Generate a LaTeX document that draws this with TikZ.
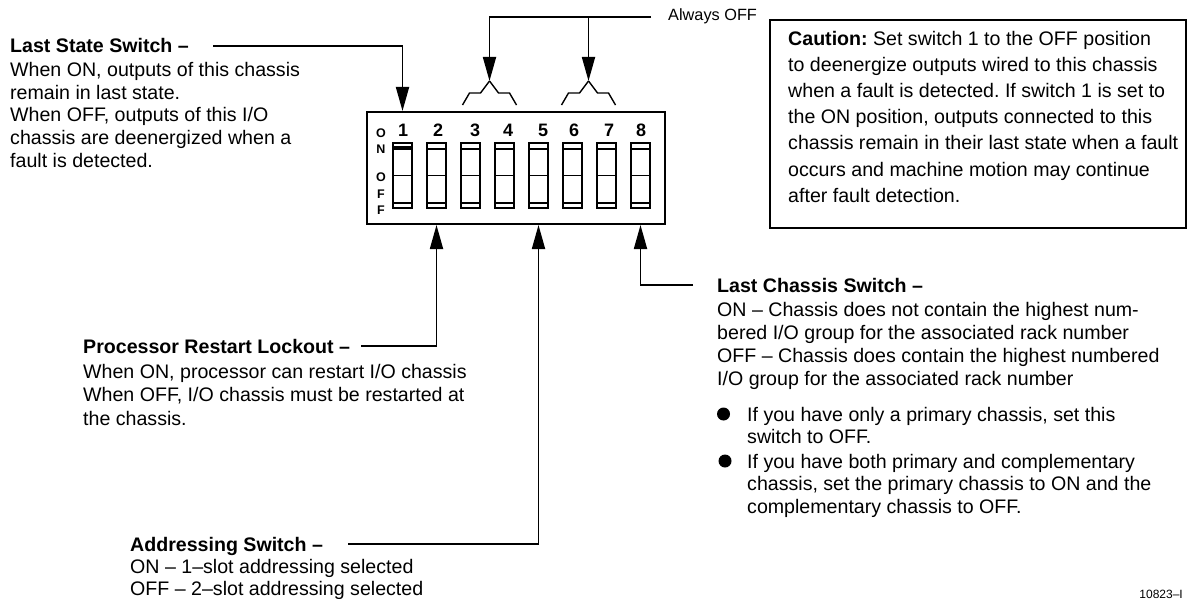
\documentclass[tikz,border=0pt]{standalone}
\usepackage{fontspec}
\setmainfont{Liberation Sans}
\usetikzlibrary{arrows.meta}
\frenchspacing

\begin{document}
\begin{tikzpicture}[
  x=1pt, y=-1pt,
  txt/.style={inner sep=0pt, align=left, font=\fontsize{19.6}{22.7}\selectfont},
  head/.style={inner sep=0pt, anchor=base west, text height=13.8pt, text depth=0pt, font=\fontsize{19.6}{22.7}\selectfont\bfseries},
  body/.style={txt, anchor=north west},
  leader/.style={line width=1.8pt},
  pointer/.style={leader, -{Triangle[length=24pt, width=13pt]}},
  switchbox/.style={draw, line width=1.4pt, minimum width=19pt, minimum height=65pt, inner sep=0pt,
    path picture={
      \draw[line width=1.4pt] ([yshift=-6pt]path picture bounding box.north west) -- ([yshift=-6pt]path picture bounding box.north east);
      \draw[line width=1.4pt] ([yshift=5pt]path picture bounding box.south west) -- ([yshift=5pt]path picture bounding box.south east);
      \draw[line width=1.4pt] (path picture bounding box.west) -- (path picture bounding box.east);
    }},
  swnum/.style={inner sep=0pt, font=\fontsize{18}{18}\selectfont\bfseries},
  onoff/.style={inner sep=0pt, font=\fontsize{12.5}{12.5}\selectfont\bfseries},
  dot/.style={circle, fill, inner sep=0pt, minimum size=13pt}
]
\useasboundingbox (0,0) rectangle (1193,599);

% switch block
\node[draw, line width=2pt, minimum width=298pt, minimum height=112pt, inner sep=0pt] (dip) at (516,168) {};

\node[switchbox] (sw1) at (402.5,175.5) {};
\node[switchbox] (sw2) at (436.5,175.5) {};
\node[switchbox] (sw3) at (470.5,175.5) {};
\node[switchbox] (sw4) at (504.5,175.5) {};
\node[switchbox] (sw5) at (538.5,175.5) {};
\node[switchbox] (sw6) at (572.5,175.5) {};
\node[switchbox] (sw7) at (606.5,175.5) {};
\node[switchbox] (sw8) at (640.5,175.5) {};
\draw[line width=2.6pt] ([yshift=-5pt]sw1.north west) -- ([yshift=-5pt]sw1.north east);

\node[swnum] (num1) at (403,130) {1};
\node[swnum] (num2) at (438,130) {2};
\node[swnum] (num3) at (475,130) {3};
\node[swnum] (num4) at (508,130) {4};
\node[swnum] (num5) at (543,130) {5};
\node[swnum] (num6) at (574,130) {6};
\node[swnum] (num7) at (609,130) {7};
\node[swnum] (num8) at (641,130) {8};

\node[onoff] (on1) at (381,133) {O};
\node[onoff] (on2) at (381,149) {N};
\node[onoff] (off1) at (381,177) {O};
\node[onoff] (off2) at (381,194) {F};
\node[onoff] (off3) at (381,210) {F};

% always off
\node[inner sep=0pt, anchor=base west, font=\fontsize{16.3}{16.3}\selectfont] (always) at (668,21) {Always OFF};
\coordinate (fork34) at (489.5,81);
\coordinate (fork67) at (588.5,81);
\draw[pointer, shorten <=17pt] (always.west) -| (fork34);
\draw[pointer] (always.west -| fork67) -- (fork67);
\draw[line width=1.4pt] (fork34) -- ++(-9,12) -- ++(-11,0) -- ++(-7,12);
\draw[line width=1.4pt] (fork34) -- ++(9,12) -- ++(11,0) -- ++(7,12);
\draw[line width=1.4pt] (fork67) -- ++(-9,12) -- ++(-11,0) -- ++(-7,12);
\draw[line width=1.4pt] (fork67) -- ++(9,12) -- ++(11,0) -- ++(7,12);

% last state switch
\node[head] (lsshead) at (10,53) {Last State Switch –};
\node[body] (lssbody) at (10,62) {When ON, outputs of this chassis\\remain in last state.\\When OFF, outputs of this I/O\\chassis are deenergized when a\\fault is detected.};
\draw[pointer, shorten <=24pt] (lsshead.east) -| (sw1 |- dip.north);

% caution
\node[draw, line width=1.8pt, minimum width=416pt, minimum height=208pt, inner sep=0pt] (caution) at (978,124) {};
\node[body, font=\fontsize{19.6}{26.2}\selectfont] (cautiontxt) at (788,30.7) {\textbf{Caution:} Set switch 1 to the OFF position\\to deenergize outputs wired to this chassis\\when a fault is detected. If switch 1 is set to\\the ON position, outputs connected to this\\chassis remain in their last state when a fault\\occurs and machine motion may continue\\after fault detection.};

% processor restart lockout
\node[head] (prlhead) at (83,353) {Processor Restart Lockout –};
\node[body, font=\fontsize{19.6}{23.5}\selectfont] (prlbody) at (83,364) {When ON, processor can restart I/O chassis\\When OFF, I/O chassis must be restarted at\\the chassis.};
\draw[pointer, shorten <=11pt] (prlhead.east) -| (sw2 |- dip.south);

% addressing switch
\node[head] (adrhead) at (130,551) {Addressing Switch –};
\node[body, font=\fontsize{19.6}{21.5}\selectfont] (adrbody) at (130,559.5) {ON – 1–slot addressing selected\\OFF – 2–slot addressing selected};
\draw[pointer, shorten <=25pt] (adrhead.east) -| (sw5 |- dip.south);

% last chassis switch
\node[head] (lcshead) at (717,292) {Last Chassis Switch –};
\node[body] (lcsbody) at (717,302.5) {ON – Chassis does not contain the highest num-\\bered I/O group for the associated rack number\\OFF – Chassis does contain the highest numbered\\I/O group for the associated rack number};
\draw[pointer, shorten <=24pt] (lcshead.west) -| (sw8 |- dip.south);

\node[dot] (dot1) at (723.5,414) {};
\node[body] (item1) at (747,406.7) {If you have only a primary chassis, set this\\switch to OFF.};
\node[dot] (dot2) at (725,461) {};
\node[body] (item2) at (747,453.7) {If you have both primary and complementary\\chassis, set the primary chassis to ON and the\\complementary chassis to OFF.};

\node[inner sep=0pt, anchor=base east, font=\fontsize{12}{12}\selectfont] (fignum) at (1183,598) {10823–I};

\end{tikzpicture}
\end{document}
